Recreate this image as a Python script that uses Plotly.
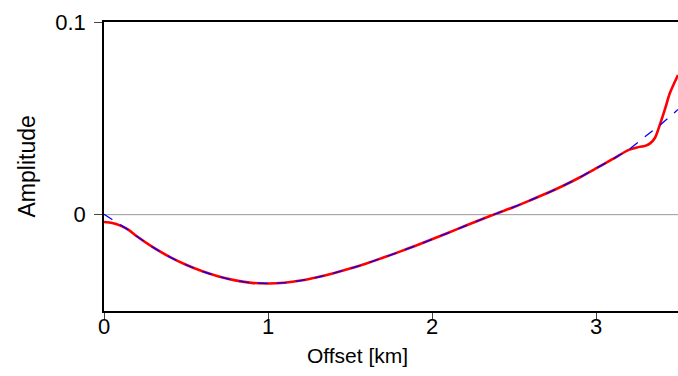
import plotly.graph_objects as go

offset_blue = [0, 0.05, 0.1, 0.15, 0.2, 0.3, 0.4, 0.5, 0.6, 0.7, 0.8, 0.9, 1.0, 1.1, 1.2, 1.3,
               1.4, 1.5, 1.6, 1.7, 1.8, 1.9, 2.0, 2.1, 2.2, 2.3, 2.4, 2.5, 2.6, 2.7, 2.8,
               2.9, 3.0, 3.1, 3.2, 3.3, 3.4, 3.5]
amp_blue = [0.0002, -0.0025, -0.0052, -0.0080, -0.0112, -0.0170, -0.0219, -0.0260, -0.0294,
            -0.0321, -0.0341, -0.0354, -0.0357, -0.0353, -0.0342, -0.0325, -0.0304, -0.0280,
            -0.0253, -0.0224, -0.0193, -0.0161, -0.0128, -0.0094, -0.0059, -0.0025, 0.0008,
            0.0040, 0.0075, 0.0111, 0.0150, 0.0193, 0.0240, 0.0288, 0.0338, 0.0406, 0.0472,
            0.0546]

offset_red = [0, 0.05, 0.1, 0.15, 0.2, 0.3, 0.4, 0.5, 0.6, 0.7, 0.8, 0.9, 1.0, 1.1, 1.2,
              1.3, 1.4, 1.5, 1.6, 1.7, 1.8, 1.9, 2.0, 2.1, 2.2, 2.3, 2.4, 2.5, 2.6, 2.7,
              2.8, 2.9, 3.0, 3.1, 3.2, 3.25, 3.3, 3.33, 3.36, 3.39, 3.42, 3.45, 3.5]
amp_red = [-0.0038, -0.0043, -0.0057, -0.0079, -0.0112, -0.0170, -0.0219, -0.0260, -0.0294,
           -0.0321, -0.0341, -0.0354, -0.0357, -0.0353, -0.0342, -0.0325, -0.0304, -0.0280,
           -0.0253, -0.0224, -0.0193, -0.0161, -0.0128, -0.0094, -0.0059, -0.0025, 0.0008,
           0.0040, 0.0075, 0.0111, 0.0150, 0.0193, 0.0240, 0.0288, 0.0336, 0.0349, 0.0357,
           0.0370, 0.0399, 0.0468, 0.0546, 0.0630, 0.0725]

x_ticks = [0, 1, 2, 3]
y_ticks = [0, 0.1]
y_tick_text = ["0", "0.1"]
x_title = "Offset [km]"
y_title = "Amplitude"

fig = go.Figure()
fig.add_hline(y=0, line=dict(color="#999999", width=1), layer="below")
fig.add_trace(go.Scatter(x=offset_red, y=amp_red, mode="lines",
                         line=dict(color="#ff0000", width=2.6, shape="spline", smoothing=0.7),
                         showlegend=False))
fig.add_trace(go.Scatter(x=offset_blue, y=amp_blue, mode="lines", xaxis="x2",
                         line=dict(color="#0000ff", width=1.3, dash="10px,9px", shape="spline",
                                   smoothing=0.7),
                         showlegend=False))

font = dict(family="Liberation Sans, Arial, sans-serif", size=21, color="black")
tick_font = dict(family="Liberation Sans, Arial, sans-serif", size=22, color="black")
fig.update_layout(
    width=678, height=376,
    margin=dict(l=104, r=0, t=22, b=65),
    plot_bgcolor="white", paper_bgcolor="white",
    font=font,
    # main x axis: frame line and tick marks
    xaxis=dict(range=[0, 3.5], tickvals=x_ticks, ticks="outside", ticklen=7, tickwidth=1.2,
               showline=True, linecolor="black", linewidth=1.5, mirror=True,
               showgrid=False, zeroline=False, showticklabels=False),
    # overlay x axis carrying the tick labels (closer to the axis line)
    xaxis2=dict(range=[0, 3.5], tickvals=x_ticks, overlaying="x", anchor="y", side="bottom",
                ticks="", showline=False, showgrid=False, zeroline=False,
                tickfont=tick_font),
    yaxis=dict(range=[-0.05, 0.1], tickvals=y_ticks, ticktext=y_tick_text, ticks="outside",
               ticklen=8, tickwidth=1.2,
               showline=True, linecolor="black", linewidth=1.5,
               showgrid=False, zeroline=False, tickfont=tick_font, ticklabelstandoff=4),
)
# axis titles placed to match the reference positions
fig.add_annotation(text=x_title, xref="paper", yref="paper", x=(357 - 104) / 574, y=0,
                   yshift=-44, xanchor="center", yanchor="middle", showarrow=False,
                   font=font)
fig.add_annotation(text=y_title, xref="paper", yref="paper", x=0, y=0.5, xshift=-78,
                   xanchor="center", yanchor="middle", textangle=-90, showarrow=False,
                   font=dict(family="Liberation Sans, Arial, sans-serif", size=23, color="black"))
fig.write_html("out.html", config={"displayModeBar": False},
               post_script="document.body.style.margin='0';document.body.style.overflow='hidden';")
